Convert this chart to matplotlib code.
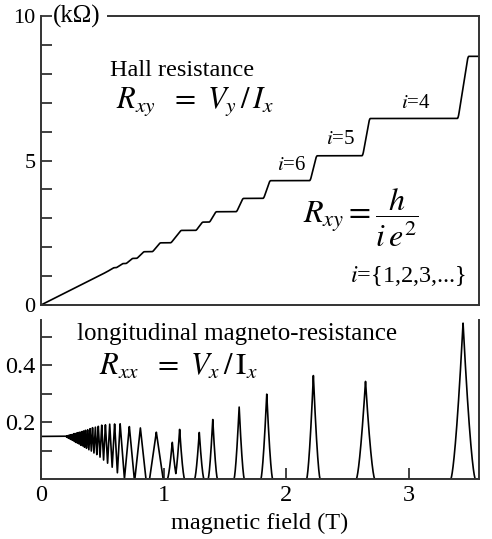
import numpy as np
import matplotlib
matplotlib.use('Agg')
import matplotlib.pyplot as plt
from matplotlib.ticker import FixedLocator, MultipleLocator

plt.rcParams['font.family'] = ['Liberation Serif', 'DejaVu Serif']
plt.rcParams['mathtext.fontset'] = 'stix'

# Hall plateaus: index i and plateau value h/(i e^2) in kOhm
plateau_i = [28, 26, 24, 22, 20, 18, 16, 14, 12, 10, 9, 8, 7, 6, 5, 4, 3]
plateau_R = [0.922, 0.993, 1.076, 1.173, 1.291, 1.434, 1.613, 1.844, 2.151,
             2.581, 2.868, 3.227, 3.688, 4.302, 5.163, 6.453, 8.604]
# field of each jump between neighbouring plateaus and width of the jump (T)
step_B = [0.45, 0.485, 0.525, 0.57, 0.64, 0.72, 0.81, 0.94, 1.10, 1.29, 1.40,
          1.62, 1.84, 2.22, 2.65, 3.44]
step_w = [0.034, 0.036, 0.04, 0.045, 0.05, 0.05, 0.055, 0.06, 0.08, 0.05,
          0.05, 0.05, 0.05, 0.05, 0.055, 0.08]

# low field oscillation maxima of Rxx (T, kOhm)
osc_B = [0.205, 0.212, 0.219, 0.226, 0.234, 0.242, 0.251, 0.26, 0.27, 0.281,
         0.292, 0.304, 0.317, 0.331, 0.346, 0.362, 0.38, 0.40, 0.42, 0.443,
         0.467, 0.495, 0.525, 0.56, 0.60, 0.645]
osc_h = [0.151, 0.152, 0.153, 0.154, 0.155, 0.156, 0.157, 0.158, 0.16, 0.161,
         0.163, 0.164, 0.166, 0.168, 0.17, 0.172, 0.175, 0.178, 0.181, 0.184,
         0.187, 0.19, 0.192, 0.194, 0.195, 0.195]
# envelope of the minima
floor_B = [0, 0.2, 0.3, 0.4, 0.47, 0.54, 0.58, 0.625, 0.67]
floor_v = [0.15, 0.15, 0.125, 0.1, 0.08, 0.055, 0.04, 0.02, 0]
# separated peaks: centre, height, half width at the base
peak_B = [0.72, 0.81, 0.94, 1.07, 1.13, 1.29, 1.40, 1.615, 1.84, 2.22, 2.645, 3.44]
peak_h = [0.185, 0.18, 0.165, 0.13, 0.175, 0.165, 0.21, 0.255, 0.30, 0.365, 0.345, 0.55]
peak_w = [0.04, 0.045, 0.055, 0.04, 0.04, 0.038, 0.038, 0.042, 0.048, 0.055, 0.075, 0.1]

xmax = 3.57
B = np.linspace(0, xmax, 8000)

# Hall resistance: plateaus joined by ramps, then corners rounded
rb, rv = [0.0], [0.0]
for k, (b, w) in enumerate(zip(step_B, step_w)):
    rb += [b - w / 2, b + w / 2]
    rv += [plateau_R[k], plateau_R[k + 1]]
rb.append(xmax)
rv.append(plateau_R[-1])
rxy = np.interp(B, rb, rv)
n = 33
pad = np.concatenate([np.full(n, rxy[0]), rxy, np.full(n, rxy[-1])])
rxy = np.convolve(pad, np.ones(n) / n, mode='same')[n:-n]

# longitudinal resistance
vb, vv = [0.0], [floor_v[0]]
for k, (b, h) in enumerate(zip(osc_B, osc_h)):
    if k > 0:
        mid = 0.5 * (osc_B[k - 1] + b)
        vb.append(mid)
        vv.append(np.interp(mid, floor_B, floor_v))
    vb.append(b)
    vv.append(h)
vb.append(osc_B[-1] + 0.035)
vv.append(0.0)
rxx = np.interp(B, vb, vv, right=0.0)
for b, h, w in zip(peak_B, peak_h, peak_w):
    t = np.abs(B - b) / w
    m = t < 1
    p = 1.0 if b < 1 else 1.5
    rxx[m] = np.maximum(rxx[m], h * (1 - t[m]) ** p)

W, H = 492, 539
fig = plt.figure(figsize=(W / 100, H / 100), dpi=100)
def fx(x): return x / W
def fy(y): return 1 - y / H

ax1 = fig.add_axes([fx(41), fy(305), fx(479) - fx(41), fy(16) - fy(305)])
ax2 = fig.add_axes([fx(41), fy(479), fx(479) - fx(41), fy(320) - fy(479)])

spc = '#333333'
for ax in (ax1, ax2):
    ax.set_xlim(0, xmax)
    for s in ax.spines.values():
        s.set_color(spc)
        s.set_linewidth(1.4)

ax1.plot(B, rxy, color='black', lw=1.2)
ax1.set_ylim(0, 10)
ax1.spines['top'].set_bounds((108 - 41) / 122.7, xmax)
ax1.yaxis.set_major_locator(FixedLocator([0, 5, 10]))
ax1.yaxis.set_minor_locator(MultipleLocator(1))
ax1.tick_params(axis='y', which='both', direction='in', length=8, width=1.3,
                color=spc, labelsize=16, pad=4)
ax1.tick_params(axis='x', which='both', bottom=False, labelbottom=False)

ax2.plot(B, rxx, color='black', lw=1.2)
ax2.set_ylim(0, 0.56)
ax2.spines['top'].set_visible(False)
ax2.yaxis.set_major_locator(FixedLocator([0.2, 0.4]))
ax2.yaxis.set_minor_locator(FixedLocator([0.1, 0.3, 0.5]))
ax2.set_yticklabels(['0.2', '0.4'])
ax2.xaxis.set_major_locator(FixedLocator([0, 1, 2, 3]))
ax2.set_xticklabels(['0', '1', '2', '3'])
ax2.tick_params(which='both', direction='in', length=8, width=1.3,
                color=spc, labelsize=17.5, pad=4)
ax2.set_xlabel('magnetic field (T)', fontsize=17.5, labelpad=5)

fig.text(fx(53), fy(16), '(k\u03a9)', fontsize=18, va='center', ha='left')
fig.text(fx(182), fy(71), 'Hall resistance', fontsize=17.5, va='center', ha='center')
fig.text(fx(195), fy(101), r'$R_{xy}\ \ =\ V_y\,/\,I_x$', fontsize=22,
         va='center', ha='center')
fig.text(fx(292), fy(166), r'$i$=6', fontsize=15, va='center', ha='center')
fig.text(fx(341), fy(140), r'$i$=5', fontsize=15, va='center', ha='center')
fig.text(fx(416), fy(104), r'$i$=4', fontsize=15, va='center', ha='center')
fig.text(fx(361), fy(218), r'$R_{xy} = \dfrac{h}{i\,e^2}$', fontsize=23,
         va='center', ha='center')
fig.text(fx(408), fy(276), r'$i$={1,2,3,...}', fontsize=17.5, va='center', ha='center')
fig.text(fx(237), fy(334), 'longitudinal magneto-resistance', fontsize=18,
         va='center', ha='center')
fig.text(fx(178), fy(367), r'$R_{xx}\ \ =\ V_x\,/\,\mathrm{I}_x$', fontsize=22,
         va='center', ha='center')

fig.savefig('out.png', dpi=100, facecolor='white')
